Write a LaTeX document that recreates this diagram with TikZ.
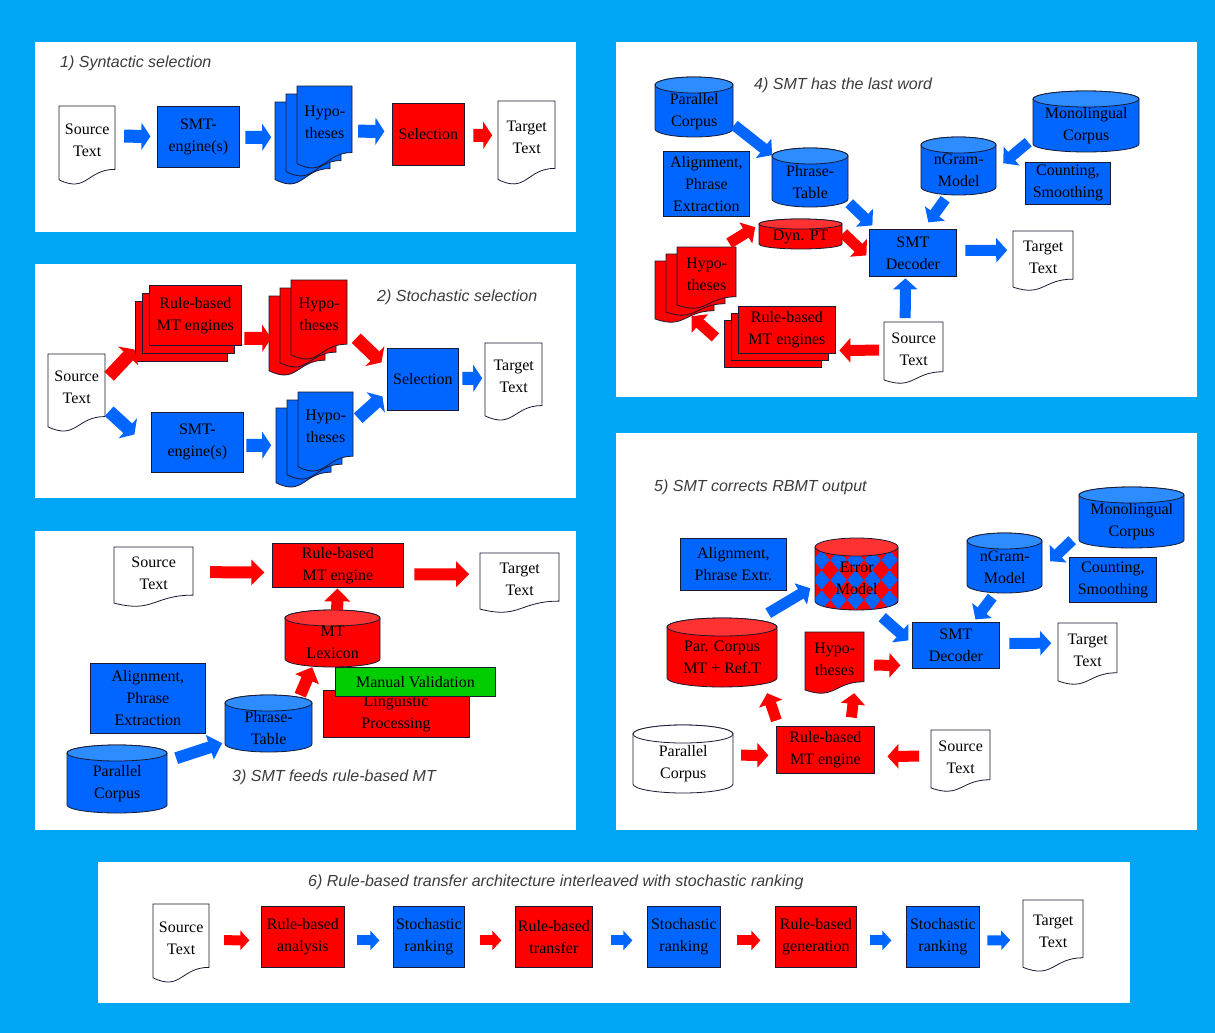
\documentclass[tikz,border=0pt]{standalone}
\usepackage{fontspec}
\setmainfont{Liberation Serif}
\newfontfamily\ttlfont{Liberation Sans}
\usetikzlibrary{arrows.meta,calc}
\definecolor{bgblue}{RGB}{0,166,246}
\definecolor{bblue}{RGB}{0,102,255}
\definecolor{bblueL}{RGB}{45,140,255}
\definecolor{rred}{RGB}{255,0,0}
\definecolor{rredL}{RGB}{255,50,50}
\definecolor{ggreen}{RGB}{0,204,0}
\definecolor{ttlgray}{RGB}{60,60,60}
\definecolor{edgec}{RGB}{25,25,50}
\tikzset{
  edgeline/.style={draw=edgec, line width=0.8pt},
  txt/.style={inner sep=0pt, align=center, font=\fontsize{16}{22}\selectfont},
  bxs/.style={txt, edgeline},
  ttl/.style={inner sep=0pt, anchor=west, text=ttlgray, font=\ttlfont\itshape\fontsize{16}{19}\selectfont},
  ar/.style={draw=#1, line width=13pt, -{Triangle[width=27pt,length=9pt]}},
  arm/.style={line width=11pt, -{Triangle[width=24pt,length=11pt]}},
  arl/.style={line width=12pt, -{Triangle[width=25pt,length=13pt]}},
  ars/.style={line width=10pt, -{Triangle[width=19pt,length=9pt]}},
}
% box: name, x1, y1, x2, y2, fill, text
\newcommand{\bx}[7]{\node[bxs, fill=#6, minimum width={(#4-#2)*1pt}, minimum height={(#5-#3)*1pt}, anchor=north west] (#1) at (#2,#3) {#7};}
% document: [fill], name, x, y, w, h, text
\newcommand{\docu}[7][white]{%
  \draw[edgeline, fill=#1] (#3,#4) -- ({#3+#5},#4) -- ({#3+#5},{#4+0.802*#6}) .. controls ({#3+0.5*#5},{#4+0.802*#6}) and ({#3+0.5*#5},{#4+1.107*#6}) .. (#3,{#4+0.934*#6}) -- cycle;
  \node[txt, minimum width={#5*1pt}, minimum height={0.86*#6*1pt}, anchor=north west] (#2) at (#3,#4) {#7};}
% cylinder: [ry], name, x, y, w, h, body, end, text
\newcommand{\cyl}[9][8]{%
  \draw[edgeline, fill=#7] (#3,{#4+#1}) -- (#3,{#4+#6-#1}) arc[start angle=180, end angle=360, x radius={#5*0.5pt}, y radius={#1*1pt}] -- ({#3+#5},{#4+#1}) arc[start angle=0, end angle=180, x radius={#5*0.5pt}, y radius={#1*1pt}] -- cycle;
  \draw[edgeline, fill=#8] ({#3+0.5*#5},{#4+#1}) ellipse [x radius={#5*0.5pt}, y radius={#1*1pt}];
  \node[txt, minimum width={#5*1pt}, minimum height={(#6-#1)*1pt}, anchor=north west] (#2) at (#3,{#4+#1}) {#9};}
\begin{document}
\begin{tikzpicture}[x=1pt,y=-1pt]
\fill[bgblue] (0,0) rectangle (1215,1033);
\useasboundingbox (0,0) rectangle (1215,1033);
% panels
\fill[white] (35,42) rectangle (576,232);
\fill[white] (35,264) rectangle (576,498);
\fill[white] (35,531) rectangle (576,830);
\fill[white] (616,42) rectangle (1197,397);
\fill[white] (616,433) rectangle (1197,830);
\fill[white] (98,862) rectangle (1130,1003);

% ---------- Panel 1
\node[ttl] (t1) at (60,63) {1) Syntactic selection};
\docu{src1}{59}{106}{56}{79}{Source\\Text}
\bx{smt1}{157}{106}{239}{167}{bblue}{SMT-\\engine(s)}
\docu[bblue]{hyp1c}{275}{102}{55}{83}{}
\docu[bblue]{hyp1b}{286}{94}{55}{83}{}
\docu[bblue]{hyp1}{297}{86}{55}{83}{Hypo-\\theses}
\bx{sel1}{392}{103}{464}{165}{rred}{Selection}
\docu{tgt1}{498}{101}{57}{84}{Target\\Text}
\draw[ar=bblue] ($(src1)+(37,-4)$) -- ($(smt1)+(-48,-0.5)$);
\draw[ar=bblue] ($(smt1)+(47,0.5)$) -- ($(hyp1c)+(-31.5,-0.7)$);
\draw[ar=bblue] ($(hyp1)+(33.5,9.3)$) -- ($(sel1)+(-44,-3)$);
\draw[ar=rred] ($(sel1)+(45,1)$) -- ($(tgt1)+(-34.5,-2.1)$);

% ---------- Panel 2
\node[ttl] (t2) at (377,297) {2) Stochastic selection};
\docu{src2}{48}{354}{57}{78}{Source\\Text}
\bx{rb2c}{135}{301}{227}{361}{rred}{}
\bx{rb2b}{142}{293}{234}{353}{rred}{}
\bx{rb2}{149}{285}{241}{345}{rred}{Rule-based\\MT engines}
\docu[rred]{hyp2rc}{269}{296}{56}{80}{}
\docu[rred]{hyp2rb}{280}{288}{56}{80}{}
\docu[rred]{hyp2r}{291}{280}{56}{80}{Hypo-\\theses}
\bx{sel2}{387}{348}{458}{410}{bblue}{Selection}
\docu{tgt2}{485}{343}{57}{78}{Target\\Text}
\bx{smt2}{151}{412}{243}{472}{bblue}{SMT-\\engine(s)}
\docu[bblue]{hyp2bc}{276}{408}{55}{80}{}
\docu[bblue]{hyp2bb}{287}{400}{55}{80}{}
\docu[bblue]{hyp2b}{298}{392}{55}{80}{Hypo-\\theses}
\draw[ar=rred] ($(src2)+(32.5,-11.5)$) -- ($(rb2c)+(-47,18)$);
\draw[ar=bblue] ($(src2)+(32.5,23.5)$) -- ($(smt2)+(-63,-8)$);
\draw[ar=rred] ($(rb2)+(49,23)$) -- ($(hyp2rc)+(-26,7.6)$);
\draw[ar=rred] ($(hyp2r)+(37,23.6)$) -- ($(sel2)+(-41.5,-17)$);
\draw[ar=bblue] ($(hyp2b)+(32.5,-8.4)$) -- ($(sel2)+(-40.5,17)$);
\draw[ar=bblue] ($(smt2)+(49,3)$) -- ($(hyp2bc)+(-32.5,2.6)$);
\draw[ar=bblue] ($(sel2)+(39.5,-1)$) -- ($(tgt2)+(-31.5,1.5)$);

% ---------- Panel 3
\node[ttl] (t3) at (232,777) {3) SMT feeds rule-based MT};
\docu{src3}{114}{547}{79}{60}{Source\\Text}
\bx{rb3}{272}{543}{403}{587}{rred}{Rule-based\\MT engine}
\docu{tgt3}{480}{553}{79}{60}{Target\\Text}
\cyl{lex3}{285}{610}{95}{57}{rred}{rredL}{MT\\Lexicon}
\bx{ling3}{323}{690}{469}{737}{rred}{}
\node[txt] (ling3p) at (396,725) {Processing};
\begin{scope}
  \clip (323,696.4) rectangle (469,737);
  \node[txt] (ling3w) at (396,703) {Linguistic};
\end{scope}
\bx{man3}{335}{667}{495}{696}{ggreen}{Manual Validation}
\bx{align3}{90}{663}{205}{733}{bblue}{Alignment,\\Phrase\\Extraction}
\cyl{pt3}{225}{695}{87}{57}{bblue}{bblueL}{Phrase-\\Table}
\cyl{pc3}{67}{745}{100}{68}{bblue}{bblueL}{Parallel\\Corpus}
\draw[ar=rred, arl] ($(src3)+(56.5,-0.8)$) -- ($(rb3)+(-73.5,7)$);
\draw[ar=rred, arl] ($(rb3)+(76.5,9)$) -- ($(tgt3)+(-50.5,-4.8)$);
\draw[ar=rred, arl] ($(lex3)+(4.5,-32.5)$) -- ($(rb3)+(-0.5,23)$);
\draw[ar=rred, arl] ($(pt3)+(31.5,-32.5)$) -- ($(lex3)+(-20.5,24.5)$);
\draw[ar=bblue, arl] ($(pc3)+(59,-25)$) -- ($(pt3)+(-46.5,15.5)$);

% ---------- Panel 4
\node[ttl] (t4) at (754,85) {4) SMT has the last word};
\cyl{pc4}{655}{77}{78}{60}{bblue}{bblueL}{Parallel\\Corpus}
\bx{align4}{663}{151}{749}{216}{bblue}{Alignment,\\Phrase\\Extraction}
\cyl{pt4}{772}{148}{76}{59}{bblue}{bblueL}{Phrase-\\Table}
\cyl{mono4}{1033}{91}{106}{61}{bblue}{bblueL}{Monolingual\\Corpus}
\cyl{ng4}{921}{137}{75}{58}{bblue}{bblueL}{nGram-\\Model}
\bx{cnt4}{1025}{162}{1110}{204}{bblue}{Counting,\\Smoothing}
\bx{smt4}{869}{229}{956}{276}{bblue}{SMT\\Decoder}
\docu{tgt4}{1013}{231}{60}{60}{Target\\Text}
\cyl[5]{dyn4}{759}{219}{83}{30}{rred}{rredL}{Dyn. PT}
\docu[rred]{hyp4c}{655}{261}{59}{62}{}
\docu[rred]{hyp4b}{666}{254}{59}{62}{}
\docu[rred]{hyp4}{677}{247}{59}{62}{Hypo-\\theses}
\bx{rb4c}{724}{320}{821}{367}{rred}{}
\bx{rb4b}{731}{313}{828}{360}{rred}{}
\bx{rb4}{738}{306}{835}{353}{rred}{Rule-based\\MT engines}
\docu{src4}{884}{322}{59}{62}{Source\\Text}
\draw[ar=bblue, arm] ($(pc4)+(40,14)$) -- ($(pt4)+(-38,-26.5)$);
\draw[ar=bblue, arm] ($(pt4)+(39,21.5)$) -- ($(smt4)+(-40.5,-27.5)$);
\draw[ar=bblue, arm] ($(ng4)+(-13.5,29)$) -- ($(smt4)+(15.5,-30.5)$);
\draw[ar=bblue, arm] ($(mono4)+(-58,16.5)$) -- ($(ng4)+(44.5,-7)$);
\draw[ar=bblue, arm] ($(smt4)+(52.5,-2.5)$) -- ($(tgt4)+(-36,-6.8)$);
\draw[ar=bblue, arm] ($(src4)+(-8.5,-30.7)$) -- ($(smt4)+(-7.5,25.5)$);
\draw[ar=rred, arm] ($(src4)+(-34.5,1.3)$) -- ($(rb4)+(52.5,20.5)$);
\draw[ar=rred, arm] ($(rb4c)+(-57.5,-6.5)$) -- ($(hyp4c)+(7,28.3)$);
\draw[ar=rred, arm] ($(hyp4)+(22.5,-30.7)$) -- ($(dyn4)+(-45.5,-9.5)$);
\draw[ar=rred, arm] ($(dyn4)+(42.5,-3.5)$) -- ($(smt4)+(-46.5,2.5)$);

% ---------- Panel 5
\node[ttl] (t5) at (654,487) {5) SMT corrects RBMT output};
\cyl{mono5}{1079}{487}{105}{61}{bblue}{bblueL}{Monolingual\\Corpus}
\cyl{ng5}{967}{533}{75}{60}{bblue}{bblueL}{nGram-\\Model}
\bx{cnt5}{1069}{557}{1156}{602}{bblue}{Counting,\\Smoothing}
\bx{align5}{680}{538}{786}{590}{bblue}{Alignment,\\Phrase Extr.}
% error model cylinder with diamond pattern
\begin{scope}
  \clip (815,547) -- (815,601) arc[start angle=180, end angle=360, x radius=41.5pt, y radius=9pt] -- (898,547) -- cycle;
  \fill[bblue] (810,530) rectangle (905,620);
  \foreach \i in {0,...,5} {
    \foreach \j in {0,...,4} {
      \fill[rred] ({813+17*\i},{540+20*\j}) -- ++(8.5,10) -- ++(-8.5,10) -- ++(-8.5,-10) -- cycle;
    }
  }
\end{scope}
\draw[edgeline] (815,547) -- (815,601) arc[start angle=180, end angle=360, x radius=41.5pt, y radius=9pt] -- (898,547);
\draw[edgeline, fill=rredL] (856.5,547) ellipse [x radius=41.5pt, y radius=9pt];
\node[txt, minimum width=83pt, minimum height=63pt, anchor=north west] (err5) at (815,547) {Error\\Model};
\cyl[9]{par5}{667}{618}{110}{69}{rred}{rredL}{Par. Corpus\\MT + Ref.T}
\bx{smt5}{912}{622}{999}{668}{bblue}{SMT\\Decoder}
\docu{tgt5}{1058}{623}{59}{62}{Target\\Text}
\docu[rred]{hyp5}{805}{632}{59}{62}{Hypo-\\theses}
\bx{rb5}{776}{726}{874}{773}{rred}{Rule-based\\MT engine}
\cyl[9]{pcw5}{633}{725}{100}{68}{white}{white}{Parallel\\Corpus}
\docu{src5}{931}{730}{59}{62}{Source\\Text}
\draw[ar=bblue, arm] ($(mono5)+(-59.5,18.5)$) -- ($(ng5)+(45.5,-6)$);
\draw[ar=bblue, arm] ($(ng5)+(-12.5,30)$) -- ($(smt5)+(19.5,-26)$);
\draw[ar=bblue, arm] ($(par5)+(46,-44)$) -- ($(err5)+(-46.5,9.5)$);
\draw[ar=bblue, arm] ($(err5)+(25.5,38.5)$) -- ($(smt5)+(-47.5,-5)$);
\draw[ar=bblue, arm] ($(smt5)+(53.5,-2)$) -- ($(tgt5)+(-36.5,-6.7)$);
\draw[ar=rred, arm] ($(hyp5)+(39.5,6.3)$) -- ($(smt5)+(-55.5,20)$);
\draw[ar=rred, arm] ($(rb5)+(-49,-29.5)$) -- ($(par5)+(45,36)$);
\draw[ar=rred, arm] ($(rb5)+(26,-32.5)$) -- ($(hyp5)+(19.5,34.3)$);
\draw[ar=rred, arm] ($(pcw5)+(58,-8.5)$) -- ($(rb5)+(-57,5.5)$);
\draw[ar=rred, arm] ($(src5)+(-41.5,-0.7)$) -- ($(rb5)+(62,6.5)$);

% ---------- Panel 6
\node[ttl] (t6) at (308,882) {6) Rule-based transfer architecture interleaved with stochastic ranking};
\docu{src6}{153}{904}{56}{79}{Source\\Text}
\bx{rba6}{261}{906}{344}{967}{rred}{Rule-based\\analysis}
\bx{st6a}{393}{906}{464}{967}{bblue}{Stochastic\\ranking}
\bx{rbt6}{515}{906}{592}{967}{rred}{Rule-based\\transfer}
\bx{st6b}{647}{906}{720}{967}{bblue}{Stochastic\\ranking}
\bx{rbg6}{775}{906}{856}{967}{rred}{Rule-based\\generation}
\bx{st6c}{906}{906}{979}{967}{bblue}{Stochastic\\ranking}
\docu{tgt6}{1023}{900}{60}{72}{Target\\Text}
\draw[ar=rred, ars] ($(src6)+(43,2)$) -- ($(rba6)+(-53.5,3.5)$);
\draw[ar=bblue, ars] ($(rba6)+(54.5,3.5)$) -- ($(st6a)+(-49.5,3.5)$);
\draw[ar=rred, ars] ($(st6a)+(51.5,3.5)$) -- ($(rbt6)+(-52.5,3.5)$);
\draw[ar=bblue, ars] ($(rbt6)+(57.5,3.5)$) -- ($(st6b)+(-51.5,3.5)$);
\draw[ar=rred, ars] ($(st6b)+(53.5,3.5)$) -- ($(rbg6)+(-55.5,3.5)$);
\draw[ar=bblue, ars] ($(rbg6)+(54.5,3.5)$) -- ($(st6c)+(-51.5,3.5)$);
\draw[ar=bblue, ars] ($(st6c)+(44.5,3.5)$) -- ($(tgt6)+(-43,9)$);
\end{tikzpicture}
\end{document}
